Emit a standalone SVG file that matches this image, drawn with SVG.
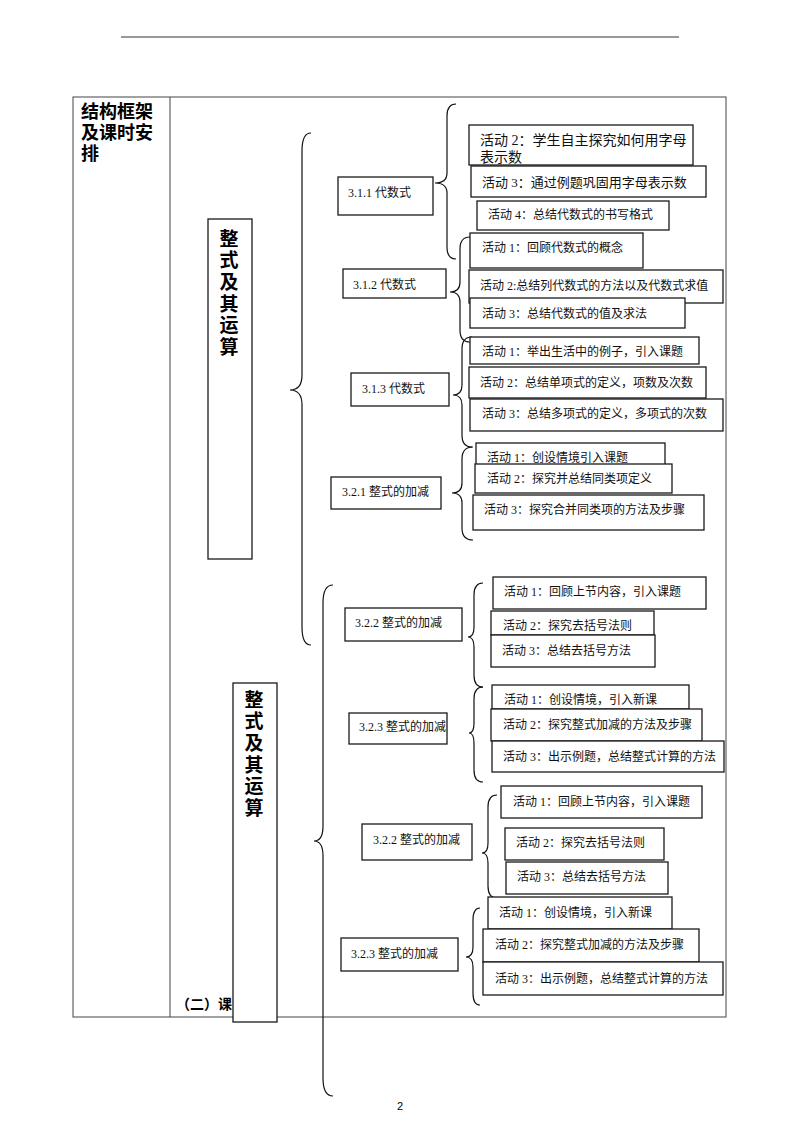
<svg xmlns="http://www.w3.org/2000/svg" width="800" height="1132" viewBox="0 0 800 1132">
<style>
.tbl{fill:none;stroke:#444;stroke-width:1}
.box{fill:#fff;stroke:#1a1a1a;stroke-width:1.3}
.t{font-family:"Liberation Serif","Noto Sans CJK SC",serif;font-size:12px;fill:#111}
.brace{fill:none;stroke:#111;stroke-width:1.2}
.vt{font-family:"Noto Sans CJK SC",sans-serif;font-size:19px;font-weight:bold;fill:#000;writing-mode:vertical-rl;letter-spacing:2.6px}
.title{font-family:"Liberation Sans","Noto Sans CJK SC",sans-serif;font-size:18px;font-weight:bold;fill:#000}
</style>
<rect width="800" height="1132" fill="#fff"/>
<g id="page">
<line x1="121" y1="37" x2="679" y2="37" stroke="#333" stroke-width="1"/>
<rect class="tbl" x="73" y="97" width="653" height="920"/>
<line class="tbl" x1="170" y1="97" x2="170" y2="1017"/>
<text class="title"><tspan x="81" y="118">结构框架</tspan><tspan x="81" y="139">及课时安</tspan><tspan x="81" y="160">排</tspan></text>
<text x="176" y="1009" style="font-family:'Noto Sans CJK SC',sans-serif;font-size:14px;font-weight:bold;fill:#000">（二）课</text>
<text x="400" y="1110" style="font-family:'Liberation Sans','Noto Sans CJK SC',sans-serif;font-size:11px;fill:#000;text-anchor:middle">2</text>
</g>
<g id="connectors">
<path class="brace" d="M311,133 Q302,133 302,151 L302,375 Q302,390 290,390 Q302,390 302,405 L302,627 Q302,645 311,645"/>
<path class="brace" d="M333,585 Q323,585 323,603 L323,826 Q323,841 314,841 Q323,841 323,856 L323,1078 Q323,1096 333,1096"/>
<path class="brace" d="M456,104 Q447,104 447,116 L447,173 Q447,183 435,183 Q447,183 447,193 L447,247 Q447,259 456,259"/>
<path class="brace" d="M470,237 Q460,237 460,249 L460,282 Q460,292 450,292 Q460,292 460,302 L460,330 Q460,342 470,342"/>
<path class="brace" d="M472,337 Q462,337 462,349 L462,385 Q462,395 453,395 Q462,395 462,405 L462,435 Q462,447 472,447"/>
<path class="brace" d="M473,447 Q462,447 462,459 L462,483 Q462,493 452,493 Q462,493 462,503 L462,528 Q462,540 473,540"/>
<path class="brace" d="M483,583 Q474,583 474,595 L474,627 Q474,637 468,637 Q474,637 474,647 L474,675 Q474,687 483,687"/>
<path class="brace" d="M483,687 Q474,687 474,699 L474,723 Q474,733 469,733 Q474,733 474,743 L474,770 Q474,782 483,782"/>
<path class="brace" d="M497,795 Q488,795 488,807 L488,843 Q488,853 482,853 Q488,853 488,863 L488,886 Q488,898 497,898"/>
<path class="brace" d="M480,908 Q473,908 473,920 L473,947 Q473,957 466,957 Q473,957 473,967 L473,993 Q473,1005 480,1005"/>
</g>
<g id="topic1">
<rect class="box" x="208" y="219" width="44" height="340"/>
<text class="vt" x="229" y="229">整式及其运算</text>
</g>
<g id="topic2">
<rect class="box" x="233" y="683" width="44" height="339"/>
<text class="vt" x="254" y="690">整式及其运算</text>
</g>
<g id="n311"><rect class="box" x="338" y="177" width="95" height="38"/><text class="t" x="348" y="197">3.1.1 代数式</text></g>
<g id="n312"><rect class="box" x="343" y="269" width="103" height="29"/><text class="t" x="353" y="289">3.1.2 代数式</text></g>
<g id="n313"><rect class="box" x="351" y="373" width="98" height="33"/><text class="t" x="362" y="393">3.1.3 代数式</text></g>
<g id="n321"><rect class="box" x="331" y="477" width="110" height="32"/><text class="t" x="342" y="496">3.2.1 整式的加减</text></g>
<g id="n322a"><rect class="box" x="345" y="608" width="117" height="33"/><text class="t" x="355" y="627">3.2.2 整式的加减</text></g>
<g id="n323a"><rect class="box" x="349" y="713" width="98" height="31"/><text class="t" x="359" y="731">3.2.3 整式的加减</text></g>
<g id="n322b"><rect class="box" x="362" y="824" width="110" height="36"/><text class="t" x="373" y="844">3.2.2 整式的加减</text></g>
<g id="n323b"><rect class="box" x="341" y="938" width="117" height="33"/><text class="t" x="351" y="958">3.2.3 整式的加减</text></g>
<g id="a1"><rect class="box" x="469" y="125" width="224" height="40"/><text class="t" style="font-size:14px"><tspan x="480" y="145">活动 2：学生自主探究如何用字母</tspan><tspan x="480" y="162">表示数</tspan></text></g>
<g id="a2"><rect class="box" x="471" y="166" width="235" height="31"/><text class="t" x="482" y="187" style="font-size:13px">活动 3：通过例题巩固用字母表示数</text></g>
<g id="a3"><rect class="box" x="477" y="201" width="192" height="29"/><text class="t" x="488" y="219">活动 4：总结代数式的书写格式</text></g>
<g id="b1"><rect class="box" x="470" y="233" width="173" height="35"/><text class="t" x="482" y="252">活动 1：回顾代数式的概念</text></g>
<g id="b2"><rect class="box" x="469" y="270" width="254" height="33"/><text class="t" x="480" y="290">活动 2:总结列代数式的方法以及代数式求值</text></g>
<g id="b3"><rect class="box" x="470" y="298" width="215" height="30"/><text class="t" x="482" y="318">活动 3：总结代数式的值及求法</text></g>
<g id="c1"><rect class="box" x="470" y="337" width="229" height="27"/><text class="t" x="482" y="356">活动 1：举出生活中的例子，引入课题</text></g>
<g id="c2"><rect class="box" x="469" y="367" width="237" height="31"/><text class="t" x="480" y="387">活动 2：总结单项式的定义，项数及次数</text></g>
<g id="c3"><rect class="box" x="470" y="399" width="253" height="32"/><text class="t" x="482" y="418">活动 3：总结多项式的定义，多项式的次数</text></g>
<g id="d1"><rect class="box" x="476" y="443" width="189" height="22"/><text class="t" x="487" y="462">活动 1：创设情境引入课题</text></g>
<g id="d2"><rect class="box" x="475" y="464" width="197" height="29"/><text class="t" x="487" y="483">活动 2：探究并总结同类项定义</text></g>
<g id="d3"><rect class="box" x="473" y="495" width="231" height="35"/><text class="t" x="484" y="514">活动 3：探究合并同类项的方法及步骤</text></g>
<g id="e1"><rect class="box" x="493" y="577" width="213" height="32"/><text class="t" x="504" y="596">活动 1：回顾上节内容，引入课题</text></g>
<g id="e2"><rect class="box" x="491" y="611" width="163" height="24"/><text class="t" x="503" y="630">活动 2：探究去括号法则</text></g>
<g id="e3"><rect class="box" x="491" y="635" width="164" height="32"/><text class="t" x="502" y="655">活动 3：总结去括号方法</text></g>
<g id="f1"><rect class="box" x="492" y="685" width="197" height="24"/><text class="t" x="504" y="704">活动 1：创设情境，引入新课</text></g>
<g id="f2"><rect class="box" x="491" y="709" width="211" height="32"/><text class="t" x="503" y="729">活动 2：探究整式加减的方法及步骤</text></g>
<g id="f3"><rect class="box" x="492" y="741" width="232" height="31"/><text class="t" x="503" y="761">活动 3：出示例题，总结整式计算的方法</text></g>
<g id="g1"><rect class="box" x="501" y="786" width="201" height="32"/><text class="t" x="513" y="806">活动 1：回顾上节内容，引入课题</text></g>
<g id="g2"><rect class="box" x="505" y="828" width="159" height="32"/><text class="t" x="516" y="847">活动 2：探究去括号法则</text></g>
<g id="g3"><rect class="box" x="506" y="862" width="162" height="32"/><text class="t" x="517" y="881">活动 3：总结去括号方法</text></g>
<g id="h1"><rect class="box" x="488" y="897" width="184" height="32"/><text class="t" x="499" y="917">活动 1：创设情境，引入新课</text></g>
<g id="h2"><rect class="box" x="483" y="929" width="216" height="33"/><text class="t" x="495" y="949">活动 2：探究整式加减的方法及步骤</text></g>
<g id="h3"><rect class="box" x="483" y="962" width="240" height="33"/><text class="t" x="495" y="983">活动 3：出示例题，总结整式计算的方法</text></g>
</svg>
